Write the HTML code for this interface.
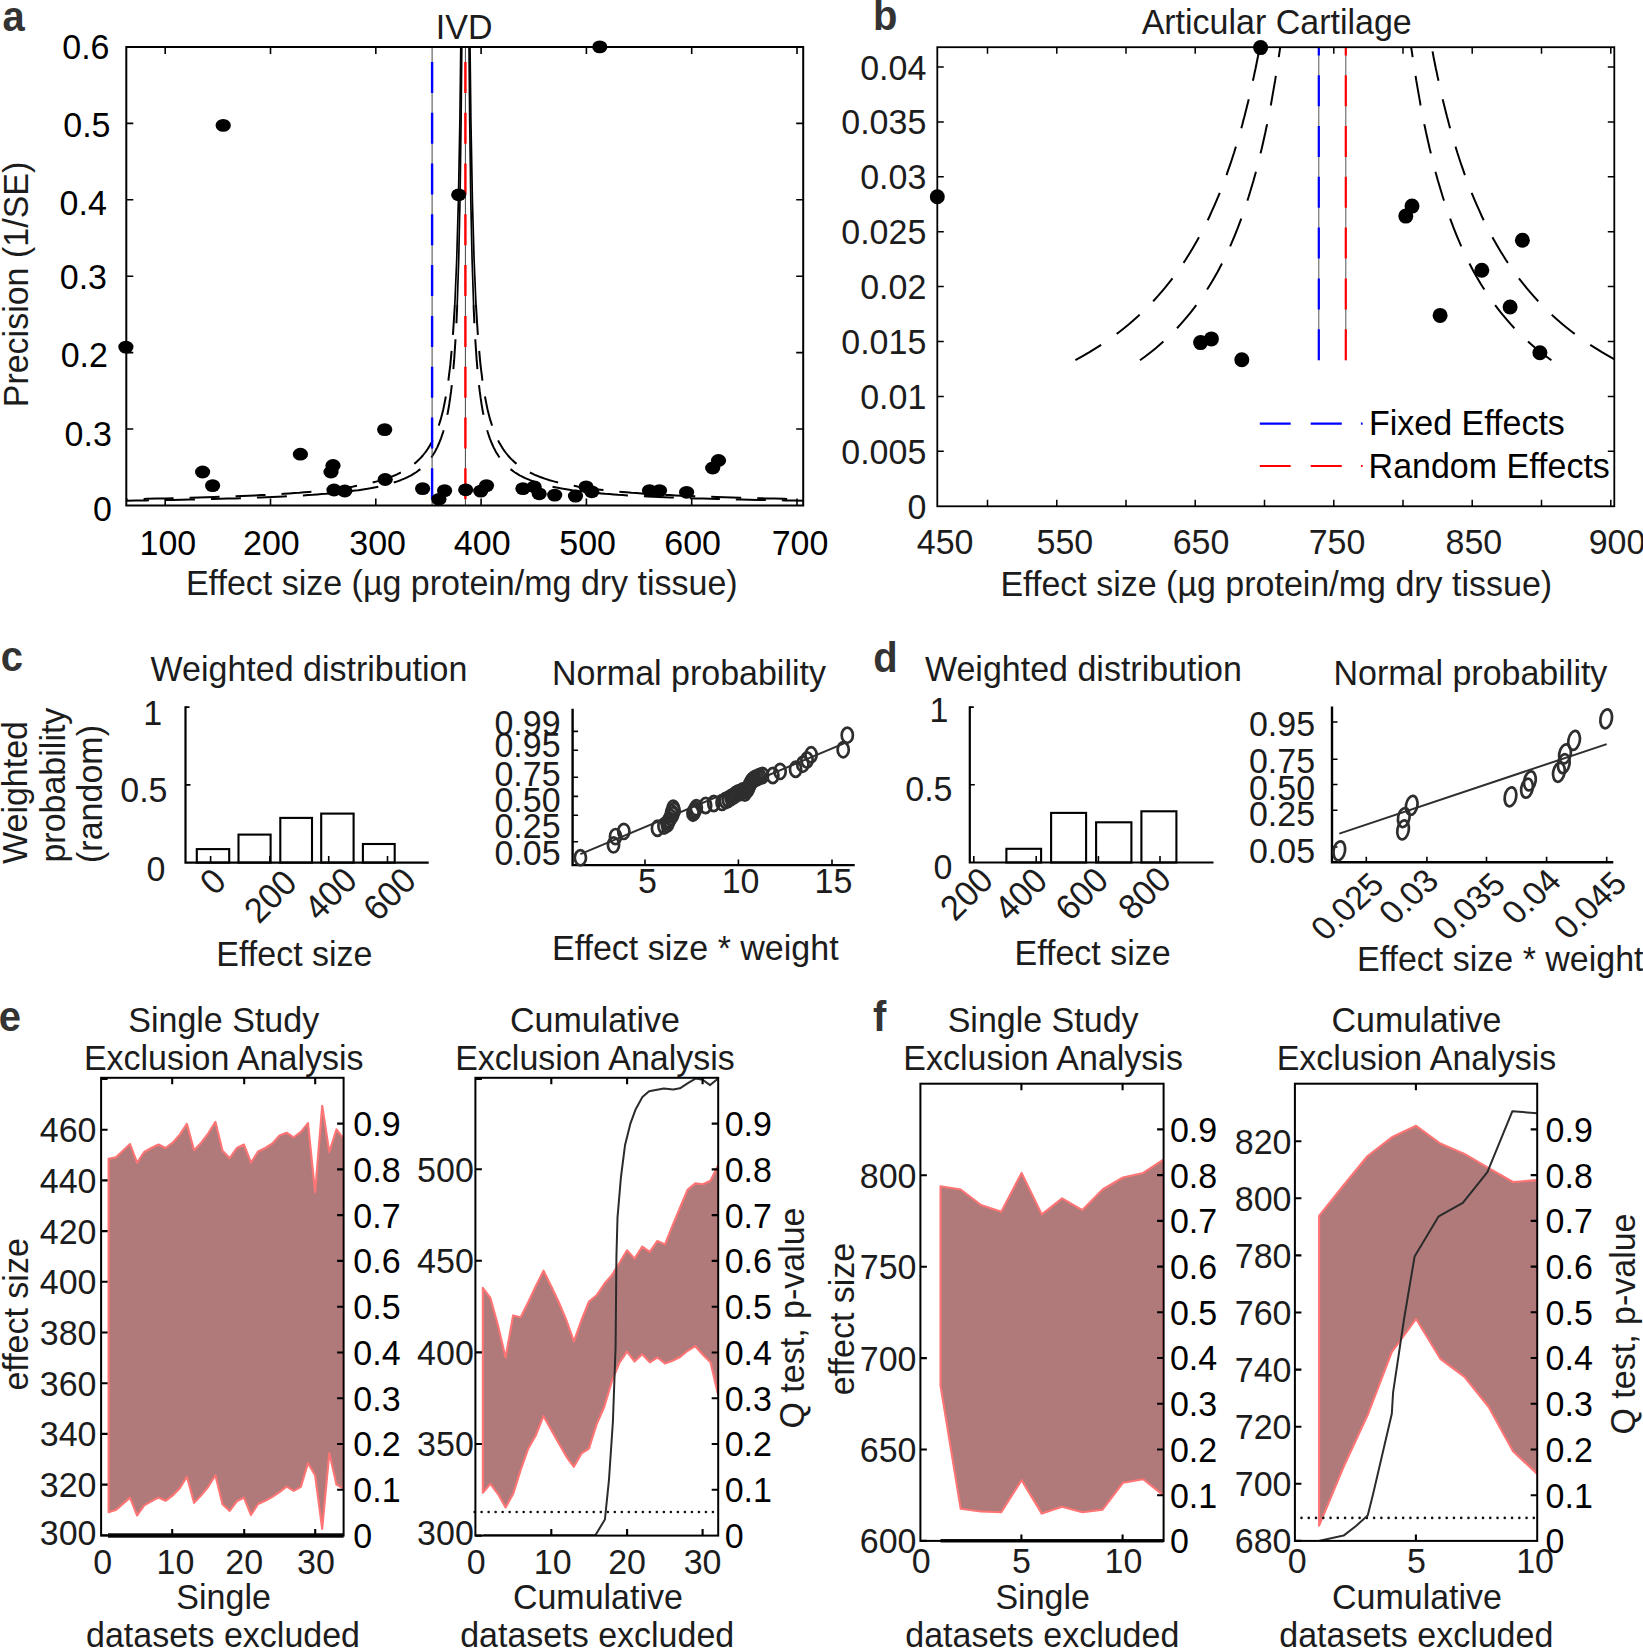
<!DOCTYPE html>
<html lang="en"><head><meta charset="utf-8"><title>Funnel plots and exclusion analyses</title>
<style>
html,body{margin:0;padding:0;background:#fff}
svg{display:block}
text{font-family:"Liberation Sans",Arial,Helvetica,sans-serif}
</style></head><body>
<svg width="1643" height="1649" viewBox="0 0 1643 1649">
<rect width="1643" height="1649" fill="#fff"/>
<g font-size="34" fill="#1c1c1c" text-anchor="middle">
<text transform="translate(2.5 30.6) scale(1 1.045)" text-anchor="start" font-size="40" fill="#333" font-weight="bold">a</text>
<text transform="translate(873.0 30.1) scale(1 1.045)" text-anchor="start" font-size="40" fill="#333" font-weight="bold">b</text>
<text transform="translate(0.8 670.7) scale(1 1.045)" text-anchor="start" font-size="40" fill="#333" font-weight="bold">c</text>
<text transform="translate(873.2 672.0) scale(1 1.045)" text-anchor="start" font-size="40" fill="#333" font-weight="bold">d</text>
<text transform="translate(-1.2 1030.5) scale(1 1.045)" text-anchor="start" font-size="40" fill="#333" font-weight="bold">e</text>
<text transform="translate(873.0 1030.7) scale(1 1.045)" text-anchor="start" font-size="40" fill="#333" font-weight="bold">f</text>
<g id="panel-a">
<clipPath id="clipA"><rect x="126.3" y="47.0" width="676.9" height="458.5"/></clipPath>
<path d="M165.2 505.5v-7M165.2 47.0v7M270.5 505.5v-7M270.5 47.0v7M375.8 505.5v-7M375.8 47.0v7M481.1 505.5v-7M481.1 47.0v7M586.4 505.5v-7M586.4 47.0v7M691.7 505.5v-7M691.7 47.0v7M797.0 505.5v-7M797.0 47.0v7M126.3 123.4h7M126.3 199.8h7M126.3 276.2h7M126.3 352.6h7M126.3 429.0h7M803.2 123.4h-7M803.2 199.8h-7M803.2 276.2h-7M803.2 352.6h-7M803.2 429.0h-7" stroke="#000" stroke-width="1.6" fill="none"/>
<g clip-path="url(#clipA)">
<path d="M461.8 45.0 L461.1 120.0 L460.0 200.0 L458.7 260.0 L457.2 305.0" stroke="#000" stroke-width="1.7" fill="none"/>
<path d="M460.8 45.0 L459.9 120.0 L458.4 200.0 L456.7 260.0 L454.8 305.0" stroke="#000" stroke-width="1.7" fill="none"/>
<path d="M454.8 305.0 L454.5 310.8 L454.1 316.5 L453.8 322.0 L453.4 327.4 L453.1 332.5 L452.7 337.6 L452.3 342.5 L451.9 347.2 L451.5 351.8 L451.1 356.3 L450.7 360.7 L450.3 364.9 L449.8 369.0 L449.3 372.9 L448.8 376.8 L448.4 380.6 L447.8 384.2 L447.3 387.7 L446.8 391.2 L446.2 394.5 L445.6 397.7 L445.0 400.9 L444.4 403.9 L443.8 406.9 L443.2 409.7 L442.5 412.5 L441.8 415.2 L441.1 417.9 L440.4 420.4 L439.6 422.9 L438.8 425.3 L438.0 427.6 L437.2 429.9 L436.4 432.1 L435.5 434.2 L434.6 436.3 L433.7 438.3 L432.7 440.3 L431.8 442.2 L430.7 444.0 L429.7 445.8 L428.6 447.6 L427.5 449.3 L426.4 450.9 L425.2 452.5 L424.0 454.0 L422.8 455.5 L421.5 457.0 L420.2 458.4 L418.8 459.8 L417.4 461.1 L416.0 462.4 L414.5 463.6 L413.0 464.9 L411.4 466.0 L409.8 467.2 L408.1 468.3 L406.4 469.4 L404.6 470.4 L402.8 471.5 L400.9 472.5 L399.0 473.4 L397.0 474.4 L395.0 475.3 L392.8 476.1 L390.7 477.0 L388.4 477.8 L386.1 478.6 L383.7 479.4 L381.3 480.2 L378.8 480.9 L376.2 481.6 L373.5 482.3 L370.7 483.0 L367.9 483.7 L365.0 484.3 L361.9 484.9 L358.8 485.5 L355.6 486.1 L352.4 486.7 L349.0 487.2 L345.5 487.7 L341.9 488.3 L338.2 488.8 L334.4 489.2 L330.4 489.7 L326.4 490.2 L322.2 490.6 L317.9 491.1 L313.5 491.5 L308.9 491.9 L304.2 492.3 L299.4 492.7 L294.4 493.0 L289.3 493.4 L284.0 493.8 L278.6 494.1 L273.0 494.4 L267.2 494.8 L261.2 495.1 L255.1 495.4 L248.8 495.7 L242.3 496.0 L235.6 496.2 L228.7 496.5 L221.6 496.8 L214.3 497.0 L206.8 497.3 L199.0 497.5 L191.0 497.7 L182.8 498.0 L174.3 498.2 L165.6 498.4 L156.6 498.6 L147.3 498.8 L137.8 499.0 L127.9 499.2 L117.8 499.4 L107.4 499.6" stroke="#000" stroke-width="2.0" fill="none" stroke-dasharray="30 16" stroke-linejoin="round"/>
<path d="M457.2 305.0 L457.0 310.8 L456.7 316.5 L456.5 322.0 L456.2 327.4 L455.9 332.5 L455.6 337.6 L455.3 342.5 L455.0 347.2 L454.7 351.8 L454.4 356.3 L454.1 360.7 L453.7 364.9 L453.4 369.0 L453.0 372.9 L452.7 376.8 L452.3 380.6 L451.9 384.2 L451.5 387.7 L451.1 391.2 L450.6 394.5 L450.2 397.7 L449.7 400.9 L449.3 403.9 L448.8 406.9 L448.3 409.7 L447.8 412.5 L447.2 415.2 L446.7 417.9 L446.1 420.4 L445.5 422.9 L445.0 425.3 L444.3 427.6 L443.7 429.9 L443.1 432.1 L442.4 434.2 L441.7 436.3 L441.0 438.3 L440.2 440.3 L439.5 442.2 L438.7 444.0 L437.9 445.8 L437.1 447.6 L436.2 449.3 L435.4 450.9 L434.5 452.5 L433.5 454.0 L432.6 455.5 L431.6 457.0 L430.6 458.4 L429.5 459.8 L428.5 461.1 L427.4 462.4 L426.2 463.6 L425.0 464.9 L423.8 466.0 L422.6 467.2 L421.3 468.3 L420.0 469.4 L418.6 470.4 L417.2 471.5 L415.8 472.5 L414.3 473.4 L412.7 474.4 L411.2 475.3 L409.5 476.1 L407.9 477.0 L406.1 477.8 L404.4 478.6 L402.5 479.4 L400.6 480.2 L398.7 480.9 L396.7 481.6 L394.6 482.3 L392.5 483.0 L390.3 483.7 L388.1 484.3 L385.7 484.9 L383.4 485.5 L380.9 486.1 L378.4 486.7 L375.8 487.2 L373.1 487.7 L370.3 488.3 L367.4 488.8 L364.5 489.2 L361.5 489.7 L358.4 490.2 L355.1 490.6 L351.8 491.1 L348.4 491.5 L344.9 491.9 L341.3 492.3 L337.6 492.7 L333.7 493.0 L329.8 493.4 L325.7 493.8 L321.5 494.1 L317.2 494.4 L312.8 494.8 L308.2 495.1 L303.5 495.4 L298.6 495.7 L293.6 496.0 L288.5 496.2 L283.2 496.5 L277.7 496.8 L272.1 497.0 L266.3 497.3 L260.3 497.5 L254.1 497.7 L247.8 498.0 L241.3 498.2 L234.5 498.4 L227.6 498.6 L220.5 498.8 L213.1 499.0 L205.6 499.2 L197.8 499.4 L189.7 499.6 L181.5 499.7 L173.0 499.9 L164.2 500.1 L155.2 500.2 L145.8 500.4 L136.3 500.5 L126.4 500.7 L116.2 500.8 L105.7 500.9" stroke="#000" stroke-width="2.0" fill="none" stroke-dasharray="30 16" stroke-dashoffset="11.7" stroke-linejoin="round"/>
<path d="M469.0 45.0 L469.7 120.0 L470.8 200.0 L472.1 260.0 L473.6 305.0" stroke="#000" stroke-width="1.7" fill="none"/>
<path d="M470.0 45.0 L470.9 120.0 L472.4 200.0 L474.1 260.0 L476.0 305.0" stroke="#000" stroke-width="1.7" fill="none"/>
<path d="M476.0 305.0 L476.3 310.8 L476.7 316.5 L477.0 322.0 L477.4 327.4 L477.7 332.5 L478.1 337.6 L478.5 342.5 L478.9 347.2 L479.3 351.8 L479.7 356.3 L480.1 360.7 L480.5 364.9 L481.0 369.0 L481.5 372.9 L482.0 376.8 L482.4 380.6 L483.0 384.2 L483.5 387.7 L484.0 391.2 L484.6 394.5 L485.2 397.7 L485.8 400.9 L486.4 403.9 L487.0 406.9 L487.6 409.7 L488.3 412.5 L489.0 415.2 L489.7 417.9 L490.4 420.4 L491.2 422.9 L492.0 425.3 L492.8 427.6 L493.6 429.9 L494.4 432.1 L495.3 434.2 L496.2 436.3 L497.1 438.3 L498.1 440.3 L499.0 442.2 L500.1 444.0 L501.1 445.8 L502.2 447.6 L503.3 449.3 L504.4 450.9 L505.6 452.5 L506.8 454.0 L508.0 455.5 L509.3 457.0 L510.6 458.4 L512.0 459.8 L513.4 461.1 L514.8 462.4 L516.3 463.6 L517.8 464.9 L519.4 466.0 L521.0 467.2 L522.7 468.3 L524.4 469.4 L526.2 470.4 L528.0 471.5 L529.9 472.5 L531.8 473.4 L533.8 474.4 L535.8 475.3 L538.0 476.1 L540.1 477.0 L542.4 477.8 L544.7 478.6 L547.1 479.4 L549.5 480.2 L552.0 480.9 L554.6 481.6 L557.3 482.3 L560.1 483.0 L562.9 483.7 L565.8 484.3 L568.9 484.9 L572.0 485.5 L575.2 486.1 L578.4 486.7 L581.8 487.2 L585.3 487.7 L588.9 488.3 L592.6 488.8 L596.4 489.2 L600.4 489.7 L604.4 490.2 L608.6 490.6 L612.9 491.1 L617.3 491.5 L621.9 491.9 L626.6 492.3 L631.4 492.7 L636.4 493.0 L641.5 493.4 L646.8 493.8 L652.2 494.1 L657.8 494.4 L663.6 494.8 L669.6 495.1 L675.7 495.4 L682.0 495.7 L688.5 496.0 L695.2 496.2 L702.1 496.5 L709.2 496.8 L716.5 497.0 L724.0 497.3 L731.8 497.5 L739.8 497.7 L748.0 498.0 L756.5 498.2 L765.2 498.4 L774.2 498.6 L783.5 498.8 L793.0 499.0 L802.9 499.2 L813.0 499.4 L823.4 499.6" stroke="#000" stroke-width="2.0" fill="none" stroke-dasharray="30 16" stroke-linejoin="round"/>
<path d="M473.6 305.0 L473.8 310.8 L474.1 316.5 L474.3 322.0 L474.6 327.4 L474.9 332.5 L475.2 337.6 L475.5 342.5 L475.8 347.2 L476.1 351.8 L476.4 356.3 L476.7 360.7 L477.1 364.9 L477.4 369.0 L477.8 372.9 L478.1 376.8 L478.5 380.6 L478.9 384.2 L479.3 387.7 L479.7 391.2 L480.2 394.5 L480.6 397.7 L481.1 400.9 L481.5 403.9 L482.0 406.9 L482.5 409.7 L483.0 412.5 L483.6 415.2 L484.1 417.9 L484.7 420.4 L485.3 422.9 L485.8 425.3 L486.5 427.6 L487.1 429.9 L487.7 432.1 L488.4 434.2 L489.1 436.3 L489.8 438.3 L490.6 440.3 L491.3 442.2 L492.1 444.0 L492.9 445.8 L493.7 447.6 L494.6 449.3 L495.4 450.9 L496.3 452.5 L497.3 454.0 L498.2 455.5 L499.2 457.0 L500.2 458.4 L501.3 459.8 L502.3 461.1 L503.4 462.4 L504.6 463.6 L505.8 464.9 L507.0 466.0 L508.2 467.2 L509.5 468.3 L510.8 469.4 L512.2 470.4 L513.6 471.5 L515.0 472.5 L516.5 473.4 L518.1 474.4 L519.6 475.3 L521.3 476.1 L522.9 477.0 L524.7 477.8 L526.4 478.6 L528.3 479.4 L530.2 480.2 L532.1 480.9 L534.1 481.6 L536.2 482.3 L538.3 483.0 L540.5 483.7 L542.7 484.3 L545.1 484.9 L547.4 485.5 L549.9 486.1 L552.4 486.7 L555.0 487.2 L557.7 487.7 L560.5 488.3 L563.4 488.8 L566.3 489.2 L569.3 489.7 L572.4 490.2 L575.7 490.6 L579.0 491.1 L582.4 491.5 L585.9 491.9 L589.5 492.3 L593.2 492.7 L597.1 493.0 L601.0 493.4 L605.1 493.8 L609.3 494.1 L613.6 494.4 L618.0 494.8 L622.6 495.1 L627.3 495.4 L632.2 495.7 L637.2 496.0 L642.3 496.2 L647.6 496.5 L653.1 496.8 L658.7 497.0 L664.5 497.3 L670.5 497.5 L676.7 497.7 L683.0 498.0 L689.5 498.2 L696.3 498.4 L703.2 498.6 L710.3 498.8 L717.7 499.0 L725.2 499.2 L733.0 499.4 L741.1 499.6 L749.3 499.7 L757.8 499.9 L766.6 500.1 L775.6 500.2 L785.0 500.4 L794.5 500.5 L804.4 500.7 L814.6 500.8 L825.1 500.9" stroke="#000" stroke-width="2.0" fill="none" stroke-dasharray="30 16" stroke-dashoffset="11.7" stroke-linejoin="round"/>
</g>
<line x1="432.1" y1="47.0" x2="432.1" y2="505.5" stroke="#444" stroke-width="1"/>
<line x1="432.1" y1="499.3" x2="432.1" y2="47.0" stroke="#0000ff" stroke-width="2.4" stroke-dasharray="31 19.8"/>
<line x1="465.4" y1="47.0" x2="465.4" y2="505.5" stroke="#444" stroke-width="1"/>
<line x1="465.4" y1="499.3" x2="465.4" y2="47.0" stroke="#ff0000" stroke-width="2.4" stroke-dasharray="31 19.8"/>
<rect x="126.3" y="47.0" width="676.9" height="458.5" fill="none" stroke="#000" stroke-width="2"/>
<g fill="#000"><ellipse cx="125.9" cy="347.1" rx="7.6" ry="6.4"/><ellipse cx="223.2" cy="125.4" rx="7.6" ry="6.4"/><ellipse cx="599.8" cy="46.9" rx="7.6" ry="6.4"/><ellipse cx="458.7" cy="194.8" rx="7.6" ry="6.4"/><ellipse cx="202.6" cy="472" rx="7.6" ry="6.4"/><ellipse cx="212.6" cy="485.6" rx="7.6" ry="6.4"/><ellipse cx="300.4" cy="454.2" rx="7.6" ry="6.4"/><ellipse cx="333" cy="465.5" rx="7.6" ry="6.4"/><ellipse cx="331" cy="472" rx="7.6" ry="6.4"/><ellipse cx="334" cy="490" rx="7.6" ry="6.4"/><ellipse cx="344.8" cy="491" rx="7.6" ry="6.4"/><ellipse cx="384.7" cy="429.6" rx="7.6" ry="6.4"/><ellipse cx="385.2" cy="479.5" rx="7.6" ry="6.4"/><ellipse cx="422.6" cy="488.6" rx="7.6" ry="6.4"/><ellipse cx="438.9" cy="499.3" rx="7.6" ry="6.4"/><ellipse cx="444.6" cy="490.6" rx="7.6" ry="6.4"/><ellipse cx="465.7" cy="489.8" rx="7.6" ry="6.4"/><ellipse cx="480.7" cy="491.1" rx="7.6" ry="6.4"/><ellipse cx="486.5" cy="485.6" rx="7.6" ry="6.4"/><ellipse cx="522.9" cy="488.6" rx="7.6" ry="6.4"/><ellipse cx="534.2" cy="486.8" rx="7.6" ry="6.4"/><ellipse cx="539.2" cy="493.8" rx="7.6" ry="6.4"/><ellipse cx="554.7" cy="495.1" rx="7.6" ry="6.4"/><ellipse cx="575.5" cy="496.1" rx="7.6" ry="6.4"/><ellipse cx="586.1" cy="486.8" rx="7.6" ry="6.4"/><ellipse cx="591.8" cy="491.8" rx="7.6" ry="6.4"/><ellipse cx="649.5" cy="490.6" rx="7.6" ry="6.4"/><ellipse cx="659.5" cy="490.6" rx="7.6" ry="6.4"/><ellipse cx="686.6" cy="492.3" rx="7.6" ry="6.4"/><ellipse cx="712.7" cy="468" rx="7.6" ry="6.4"/><ellipse cx="718.5" cy="460.5" rx="7.6" ry="6.4"/></g>
<text transform="translate(109.5 58.8) scale(1 1.045)" text-anchor="end" fill="#000">0.6</text>
<text transform="translate(110.5 136.6) scale(1 1.045)" text-anchor="end" fill="#000">0.5</text>
<text transform="translate(106.8 215.2) scale(1 1.045)" text-anchor="end" fill="#000">0.4</text>
<text transform="translate(107.0 289.0) scale(1 1.045)" text-anchor="end" fill="#000">0.3</text>
<text transform="translate(107.9 366.9) scale(1 1.045)" text-anchor="end" fill="#000">0.2</text>
<text transform="translate(111.8 446.4) scale(1 1.045)" text-anchor="end" fill="#000">0.3</text>
<text transform="translate(111.8 521.0) scale(1 1.045)" text-anchor="end" fill="#000">0</text>
<text transform="translate(167.9 554.6) scale(1 1.045)" fill="#000">100</text>
<text transform="translate(271.4 554.6) scale(1 1.045)" fill="#000">200</text>
<text transform="translate(377.6 554.6) scale(1 1.045)" fill="#000">300</text>
<text transform="translate(482.2 554.6) scale(1 1.045)" fill="#000">400</text>
<text transform="translate(587.6 554.6) scale(1 1.045)" fill="#000">500</text>
<text transform="translate(692.6 554.6) scale(1 1.045)" fill="#000">600</text>
<text transform="translate(800.0 554.6) scale(1 1.045)" fill="#000">700</text>
<text transform="translate(461.8 595.3) scale(1 1.045)">Effect size (µg protein/mg dry tissue)</text>
<text transform="translate(464.2 38.9) scale(1 1.045)">IVD</text>
<text transform="translate(27.6 284.5) rotate(-90) scale(1 1.045)">Precision (1/SE)</text>
</g>
<g id="panel-b">
<path d="M987.5 506.3v-6.5M987.5 47.2v6.5M1056.8 506.3v-6.5M1056.8 47.2v6.5M1126.0 506.3v-6.5M1126.0 47.2v6.5M1195.2 506.3v-6.5M1195.2 47.2v6.5M1264.5 506.3v-6.5M1264.5 47.2v6.5M1333.8 506.3v-6.5M1333.8 47.2v6.5M1403.0 506.3v-6.5M1403.0 47.2v6.5M1472.2 506.3v-6.5M1472.2 47.2v6.5M1541.5 506.3v-6.5M1541.5 47.2v6.5M1610.8 506.3v-6.5M1610.8 47.2v6.5M937.3 67.0h6.5M937.3 121.9h6.5M937.3 176.8h6.5M937.3 231.7h6.5M937.3 286.6h6.5M937.3 341.5h6.5M937.3 396.4h6.5M937.3 451.3h6.5M1614.3 67.0h-6.5M1614.3 121.9h-6.5M1614.3 176.8h-6.5M1614.3 231.7h-6.5M1614.3 286.6h-6.5M1614.3 341.5h-6.5M1614.3 396.4h-6.5M1614.3 451.3h-6.5" stroke="#000" stroke-width="1.5" fill="none"/>
<clipPath id="clipB"><rect x="937.3" y="47.2" width="677.0" height="459.1"/></clipPath>
<g clip-path="url(#clipB)">
<path d="M1140.0 360.2 L1145.5 356.2 L1150.7 352.2 L1155.7 348.2 L1160.3 344.2 L1164.8 340.2 L1169.1 336.2 L1173.1 332.2 L1177.0 328.2 L1180.7 324.2 L1184.2 320.2 L1187.6 316.2 L1190.9 312.2 L1194.0 308.2 L1197.0 304.2 L1199.9 300.2 L1202.7 296.2 L1205.4 292.2 L1207.9 288.2 L1210.4 284.2 L1212.8 280.2 L1215.1 276.2 L1217.4 272.2 L1219.5 268.2 L1221.6 264.2 L1223.6 260.2 L1225.6 256.2 L1227.5 252.2 L1229.3 248.2 L1231.1 244.2 L1232.8 240.2 L1234.5 236.2 L1236.1 232.2 L1237.7 228.2 L1239.2 224.2 L1240.7 220.2 L1242.1 216.2 L1243.5 212.2 L1244.9 208.2 L1246.2 204.2 L1247.5 200.2 L1248.8 196.2 L1250.0 192.2 L1251.2 188.2 L1252.4 184.2 L1253.6 180.2 L1254.7 176.2 L1255.8 172.2 L1256.8 168.2 L1257.9 164.2 L1258.9 160.2 L1259.9 156.2 L1260.8 152.2 L1261.8 148.2 L1262.7 144.2 L1263.6 140.2 L1264.5 136.2 L1265.4 132.2 L1266.2 128.2 L1267.1 124.2 L1267.9 120.2 L1268.7 116.2 L1269.5 112.2 L1270.2 108.2 L1271.0 104.2 L1271.7 100.2 L1272.4 96.2 L1273.1 92.2 L1273.8 88.2 L1274.5 84.2 L1275.2 80.2 L1275.8 76.2 L1276.5 72.2 L1277.1 68.2 L1277.7 64.2 L1278.3 60.2 L1278.9 56.2 L1279.5 52.2 L1280.1 48.2 L1280.3 47.2" stroke="#000" stroke-width="2" fill="none" stroke-dasharray="30 19"/>
<path d="M1551.4 360.2 L1545.9 356.2 L1540.7 352.2 L1535.7 348.2 L1531.1 344.2 L1526.6 340.2 L1522.3 336.2 L1518.3 332.2 L1514.4 328.2 L1510.7 324.2 L1507.2 320.2 L1503.8 316.2 L1500.5 312.2 L1497.4 308.2 L1494.4 304.2 L1491.5 300.2 L1488.7 296.2 L1486.0 292.2 L1483.5 288.2 L1481.0 284.2 L1478.6 280.2 L1476.3 276.2 L1474.0 272.2 L1471.9 268.2 L1469.8 264.2 L1467.8 260.2 L1465.8 256.2 L1463.9 252.2 L1462.1 248.2 L1460.3 244.2 L1458.6 240.2 L1456.9 236.2 L1455.3 232.2 L1453.7 228.2 L1452.2 224.2 L1450.7 220.2 L1449.3 216.2 L1447.9 212.2 L1446.5 208.2 L1445.2 204.2 L1443.9 200.2 L1442.6 196.2 L1441.4 192.2 L1440.2 188.2 L1439.0 184.2 L1437.8 180.2 L1436.7 176.2 L1435.6 172.2 L1434.6 168.2 L1433.5 164.2 L1432.5 160.2 L1431.5 156.2 L1430.6 152.2 L1429.6 148.2 L1428.7 144.2 L1427.8 140.2 L1426.9 136.2 L1426.0 132.2 L1425.2 128.2 L1424.3 124.2 L1423.5 120.2 L1422.7 116.2 L1421.9 112.2 L1421.2 108.2 L1420.4 104.2 L1419.7 100.2 L1419.0 96.2 L1418.3 92.2 L1417.6 88.2 L1416.9 84.2 L1416.2 80.2 L1415.6 76.2 L1414.9 72.2 L1414.3 68.2 L1413.7 64.2 L1413.1 60.2 L1412.5 56.2 L1411.9 52.2 L1411.3 48.2 L1411.1 47.2" stroke="#000" stroke-width="2" fill="none" stroke-dasharray="30 19"/>
<path d="M1075.4 360.2 L1082.6 356.2 L1089.5 352.2 L1095.9 348.2 L1102.1 344.2 L1108.0 340.2 L1113.6 336.2 L1118.9 332.2 L1124.0 328.2 L1128.9 324.2 L1133.5 320.2 L1138.0 316.2 L1142.3 312.2 L1146.4 308.2 L1150.3 304.2 L1154.1 300.2 L1157.8 296.2 L1161.3 292.2 L1164.7 288.2 L1167.9 284.2 L1171.1 280.2 L1174.1 276.2 L1177.0 272.2 L1179.9 268.2 L1182.6 264.2 L1185.3 260.2 L1187.8 256.2 L1190.3 252.2 L1192.7 248.2 L1195.0 244.2 L1197.3 240.2 L1199.5 236.2 L1201.6 232.2 L1203.7 228.2 L1205.7 224.2 L1207.7 220.2 L1209.6 216.2 L1211.4 212.2 L1213.2 208.2 L1215.0 204.2 L1216.7 200.2 L1218.4 196.2 L1220.0 192.2 L1221.6 188.2 L1223.1 184.2 L1224.6 180.2 L1226.1 176.2 L1227.5 172.2 L1228.9 168.2 L1230.3 164.2 L1231.6 160.2 L1232.9 156.2 L1234.2 152.2 L1235.4 148.2 L1236.7 144.2 L1237.8 140.2 L1239.0 136.2 L1240.2 132.2 L1241.3 128.2 L1242.4 124.2 L1243.4 120.2 L1244.5 116.2 L1245.5 112.2 L1246.5 108.2 L1247.5 104.2 L1248.5 100.2 L1249.4 96.2 L1250.3 92.2 L1251.3 88.2 L1252.2 84.2 L1253.0 80.2 L1253.9 76.2 L1254.7 72.2 L1255.6 68.2 L1256.4 64.2 L1257.2 60.2 L1258.0 56.2 L1258.7 52.2 L1259.5 48.2 L1259.7 47.2" stroke="#000" stroke-width="2" fill="none" stroke-dasharray="30 19"/>
<path d="M1616.0 360.2 L1608.8 356.2 L1601.9 352.2 L1595.5 348.2 L1589.3 344.2 L1583.4 340.2 L1577.8 336.2 L1572.5 332.2 L1567.4 328.2 L1562.5 324.2 L1557.9 320.2 L1553.4 316.2 L1549.1 312.2 L1545.0 308.2 L1541.1 304.2 L1537.3 300.2 L1533.6 296.2 L1530.1 292.2 L1526.7 288.2 L1523.5 284.2 L1520.3 280.2 L1517.3 276.2 L1514.4 272.2 L1511.5 268.2 L1508.8 264.2 L1506.1 260.2 L1503.6 256.2 L1501.1 252.2 L1498.7 248.2 L1496.4 244.2 L1494.1 240.2 L1491.9 236.2 L1489.8 232.2 L1487.7 228.2 L1485.7 224.2 L1483.7 220.2 L1481.8 216.2 L1480.0 212.2 L1478.2 208.2 L1476.4 204.2 L1474.7 200.2 L1473.0 196.2 L1471.4 192.2 L1469.8 188.2 L1468.3 184.2 L1466.8 180.2 L1465.3 176.2 L1463.9 172.2 L1462.5 168.2 L1461.1 164.2 L1459.8 160.2 L1458.5 156.2 L1457.2 152.2 L1456.0 148.2 L1454.7 144.2 L1453.6 140.2 L1452.4 136.2 L1451.2 132.2 L1450.1 128.2 L1449.0 124.2 L1448.0 120.2 L1446.9 116.2 L1445.9 112.2 L1444.9 108.2 L1443.9 104.2 L1442.9 100.2 L1442.0 96.2 L1441.1 92.2 L1440.1 88.2 L1439.2 84.2 L1438.4 80.2 L1437.5 76.2 L1436.7 72.2 L1435.8 68.2 L1435.0 64.2 L1434.2 60.2 L1433.4 56.2 L1432.7 52.2 L1431.9 48.2 L1431.7 47.2" stroke="#000" stroke-width="2" fill="none" stroke-dasharray="30 19"/>
</g>
<line x1="1318.8" y1="47.2" x2="1318.8" y2="360.2" stroke="#555" stroke-width="1"/>
<line x1="1318.8" y1="360.2" x2="1318.8" y2="47.2" stroke="#0000ff" stroke-width="2.2" stroke-dasharray="31 19.8"/>
<line x1="1345.8" y1="47.2" x2="1345.8" y2="360.2" stroke="#555" stroke-width="1"/>
<line x1="1345.8" y1="360.2" x2="1345.8" y2="47.2" stroke="#ff0000" stroke-width="2.2" stroke-dasharray="31 19.8"/>
<rect x="937.3" y="47.2" width="677.0" height="459.1" fill="none" stroke="#000" stroke-width="1.8"/>
<g fill="#000"><circle cx="937.3" cy="196.8" r="7.5"/><circle cx="1260.6" cy="47.6" r="7.5"/><circle cx="1412" cy="206.1" r="7.5"/><circle cx="1405.8" cy="216.1" r="7.5"/><circle cx="1522.4" cy="240.2" r="7.5"/><circle cx="1481.8" cy="270.3" r="7.5"/><circle cx="1510.1" cy="307.0" r="7.5"/><circle cx="1440.1" cy="315.4" r="7.5"/><circle cx="1539.9" cy="352.7" r="7.5"/><circle cx="1241.8" cy="359.7" r="7.5"/><circle cx="1200.6" cy="342.6" r="7.5"/><circle cx="1211.4" cy="338.9" r="7.5"/></g>
<text transform="translate(926.3 79.5) scale(1 1.045)" text-anchor="end">0.04</text>
<text transform="translate(926.3 134.4) scale(1 1.045)" text-anchor="end">0.035</text>
<text transform="translate(926.3 189.3) scale(1 1.045)" text-anchor="end">0.03</text>
<text transform="translate(926.3 244.2) scale(1 1.045)" text-anchor="end">0.025</text>
<text transform="translate(926.3 299.1) scale(1 1.045)" text-anchor="end">0.02</text>
<text transform="translate(926.3 354.0) scale(1 1.045)" text-anchor="end">0.015</text>
<text transform="translate(926.3 408.9) scale(1 1.045)" text-anchor="end">0.01</text>
<text transform="translate(926.3 463.8) scale(1 1.045)" text-anchor="end">0.005</text>
<text transform="translate(926.3 519.1) scale(1 1.045)" text-anchor="end">0</text>
<text transform="translate(945.1 553.6) scale(1 1.045)">450</text>
<text transform="translate(1064.9 553.6) scale(1 1.045)">550</text>
<text transform="translate(1201.0 553.6) scale(1 1.045)">650</text>
<text transform="translate(1337.0 553.6) scale(1 1.045)">750</text>
<text transform="translate(1473.9 553.6) scale(1 1.045)">850</text>
<text transform="translate(1617.0 553.6) scale(1 1.045)">900</text>
<text transform="translate(1276.3 595.9) scale(1 1.045)">Effect size (µg protein/mg dry tissue)</text>
<text transform="translate(1276.7 34.3) scale(1 1.045)">Articular Cartilage</text>
<path d="M1259.8 423.6H1290.7M1310.7 423.6H1341.8M1360.9 423.6H1362.6" stroke="#0000ff" stroke-width="2.2" fill="none"/>
<path d="M1259.8 466.0H1290.7M1310.7 466.0H1341.8M1360.9 466.0H1362.6" stroke="#ff0000" stroke-width="2.2" fill="none"/>
<text transform="translate(1369.0 435.4) scale(1 1.045)" text-anchor="start" fill="#000">Fixed Effects</text>
<text transform="translate(1368.6 478.0) scale(1 1.045)" text-anchor="start" fill="#000">Random Effects</text>
</g>
<g id="hist-c">
<path d="M185.5 706.3V862.6H428.7" stroke="#000" stroke-width="2.2" fill="none"/>
<path d="M185.5 784.9h5M185.5 707.1h4M210.6 862.6v-6.5M269.9 862.6v-6.5M328.7 862.6v-6.5M387.5 862.6v-6.5" stroke="#000" stroke-width="1.6" fill="none"/>
<rect x="196.8" y="849.1" width="32.4" height="13.5" fill="none" stroke="#000" stroke-width="2.1"/>
<rect x="238.5" y="834.6" width="32.1" height="28.0" fill="none" stroke="#000" stroke-width="2.1"/>
<rect x="280.3" y="817.9" width="31.7" height="44.7" fill="none" stroke="#000" stroke-width="2.1"/>
<rect x="321.2" y="813.6" width="32.4" height="49.0" fill="none" stroke="#000" stroke-width="2.1"/>
<rect x="362.9" y="844.0" width="31.8" height="18.6" fill="none" stroke="#000" stroke-width="2.1"/>
<text transform="translate(162.2 725.0) scale(1 1.045)" text-anchor="end">1</text>
<text transform="translate(167.5 802.2) scale(1 1.045)" text-anchor="end">0.5</text>
<text transform="translate(165.4 880.5) scale(1 1.045)" text-anchor="end">0</text>
<text transform="rotate(-45 212.8 881.5) translate(212.8 893.7) scale(1 1.045)">0</text>
<text transform="rotate(-45 270.3 896.3) translate(270.3 908.5) scale(1 1.045)">200</text>
<text transform="rotate(-45 330.4 893.7) translate(330.4 905.9) scale(1 1.045)">400</text>
<text transform="rotate(-45 389.5 894.1) translate(389.5 906.3) scale(1 1.045)">600</text>
<text transform="translate(294.4 965.6) scale(1 1.045)">Effect size</text>
<text transform="translate(309.0 681.4) scale(1 1.045)">Weighted distribution</text>
</g>
<text transform="translate(26.7 792.5) rotate(-90) scale(1 1.045)">Weighted</text>
<text transform="translate(65.0 785.1) rotate(-90) scale(1 1.045)">probability</text>
<text transform="translate(102.1 794.0) rotate(-90) scale(1 1.045)">(random)</text>
<g id="hist-d">
<path d="M969.8 706.3V862.5H1213.5" stroke="#000" stroke-width="2.2" fill="none"/>
<path d="M969.8 784.8h5M969.8 707.1h4M973.8 862.5v-6.5M1036.2 862.5v-6.5M1098.4 862.5v-6.5M1160.0 862.5v-6.5" stroke="#000" stroke-width="1.6" fill="none"/>
<rect x="1006.4" y="848.8" width="34.7" height="13.7" fill="none" stroke="#000" stroke-width="2.1"/>
<rect x="1051.1" y="812.9" width="35.0" height="49.6" fill="none" stroke="#000" stroke-width="2.1"/>
<rect x="1096.1" y="822.3" width="35.3" height="40.2" fill="none" stroke="#000" stroke-width="2.1"/>
<rect x="1141.4" y="811.3" width="35.0" height="51.2" fill="none" stroke="#000" stroke-width="2.1"/>
<text transform="translate(948.5 721.9) scale(1 1.045)" text-anchor="end">1</text>
<text transform="translate(952.5 801.2) scale(1 1.045)" text-anchor="end">0.5</text>
<text transform="translate(952.5 878.5) scale(1 1.045)" text-anchor="end">0</text>
<text transform="rotate(-45 966.5 893.8) translate(966.5 906.0) scale(1 1.045)">200</text>
<text transform="rotate(-45 1020.7 894.3) translate(1020.7 906.5) scale(1 1.045)">400</text>
<text transform="rotate(-45 1081.6 893.8) translate(1081.6 906.0) scale(1 1.045)">600</text>
<text transform="rotate(-45 1144.4 893.0) translate(1144.4 905.2) scale(1 1.045)">800</text>
<text transform="translate(1092.6 965.3) scale(1 1.045)">Effect size</text>
<text transform="translate(1083.4 681.4) scale(1 1.045)">Weighted distribution</text>
</g>
<g id="np-c">
<path d="M572.6 708.7V865.1H854.7" stroke="#000" stroke-width="2.4" fill="none"/>
<path d="M572.6 731.4h5.5M572.6 750.2h5.5M572.6 777.2h5.5M572.6 796.4h5.5M572.6 815.3h5.5M572.6 841.7h5.5M645.0 865.1v-5.5M738.4 865.1v-5.5M832.0 865.1v-5.5" stroke="#000" stroke-width="1.6" fill="none"/>
<line x1="580.4" y1="854.2" x2="845.3" y2="742.9" stroke="#2e2e2e" stroke-width="2.0"/>
<g fill="none" stroke="#2e2e2e" stroke-width="2.7"><ellipse cx="580.4" cy="857.7" rx="5.6" ry="7.6"/><ellipse cx="613.5" cy="844.9" rx="5.6" ry="7.6"/><ellipse cx="615.5" cy="836.6" rx="5.6" ry="7.6"/><ellipse cx="623.8" cy="831.4" rx="5.6" ry="7.6"/><ellipse cx="657.5" cy="828.3" rx="5.6" ry="7.6"/><ellipse cx="667.3" cy="824.2" rx="5.6" ry="7.6"/><ellipse cx="669.3" cy="820.0" rx="5.6" ry="7.6"/><ellipse cx="672.5" cy="814.9" rx="5.6" ry="7.6"/><ellipse cx="674.1" cy="810.7" rx="5.6" ry="7.6"/><ellipse cx="694.2" cy="811.8" rx="5.6" ry="7.6"/><ellipse cx="696.3" cy="807.6" rx="5.6" ry="7.6"/><ellipse cx="705.6" cy="805.5" rx="5.6" ry="7.6"/><ellipse cx="713.8" cy="803.5" rx="5.6" ry="7.6"/><ellipse cx="722.1" cy="802.4" rx="5.6" ry="7.6"/><ellipse cx="728.3" cy="799.3" rx="5.6" ry="7.6"/><ellipse cx="733.5" cy="796.2" rx="5.6" ry="7.6"/><ellipse cx="737.6" cy="793.1" rx="5.6" ry="7.6"/><ellipse cx="744.9" cy="793.1" rx="5.6" ry="7.6"/><ellipse cx="748.0" cy="789.0" rx="5.6" ry="7.6"/><ellipse cx="750.1" cy="783.8" rx="5.6" ry="7.6"/><ellipse cx="753.2" cy="779.7" rx="5.6" ry="7.6"/><ellipse cx="757.3" cy="777.6" rx="5.6" ry="7.6"/><ellipse cx="762.5" cy="775.5" rx="5.6" ry="7.6"/><ellipse cx="772.8" cy="775.5" rx="5.6" ry="7.6"/><ellipse cx="780.1" cy="771.4" rx="5.6" ry="7.6"/><ellipse cx="795.6" cy="769.3" rx="5.6" ry="7.6"/><ellipse cx="802.8" cy="764.2" rx="5.6" ry="7.6"/><ellipse cx="807.0" cy="760.0" rx="5.6" ry="7.6"/><ellipse cx="811.1" cy="754.8" rx="5.6" ry="7.6"/><ellipse cx="843.2" cy="749.7" rx="5.6" ry="7.6"/><ellipse cx="847.3" cy="735.2" rx="5.6" ry="7.6"/><ellipse cx="664.0" cy="826.0" rx="5.6" ry="7.6"/><ellipse cx="668.2" cy="822.0" rx="5.6" ry="7.6"/><ellipse cx="670.6" cy="817.5" rx="5.6" ry="7.6"/><ellipse cx="671.6" cy="812.6" rx="5.6" ry="7.6"/><ellipse cx="673.2" cy="808.2" rx="5.6" ry="7.6"/><ellipse cx="695.0" cy="809.7" rx="5.6" ry="7.6"/><ellipse cx="693.0" cy="813.2" rx="5.6" ry="7.6"/><ellipse cx="725.5" cy="800.5" rx="5.6" ry="7.6"/><ellipse cx="731.0" cy="797.5" rx="5.6" ry="7.6"/><ellipse cx="735.5" cy="794.5" rx="5.6" ry="7.6"/><ellipse cx="740.0" cy="792.5" rx="5.6" ry="7.6"/><ellipse cx="742.5" cy="791.0" rx="5.6" ry="7.6"/><ellipse cx="746.5" cy="790.5" rx="5.6" ry="7.6"/><ellipse cx="749.0" cy="786.5" rx="5.6" ry="7.6"/><ellipse cx="751.5" cy="781.5" rx="5.6" ry="7.6"/><ellipse cx="755.0" cy="778.5" rx="5.6" ry="7.6"/><ellipse cx="759.5" cy="776.5" rx="5.6" ry="7.6"/></g>
<text transform="translate(560.6 735.0) scale(1 1.045)" text-anchor="end">0.99</text>
<text transform="translate(560.6 756.9) scale(1 1.045)" text-anchor="end">0.95</text>
<text transform="translate(560.6 786.1) scale(1 1.045)" text-anchor="end">0.75</text>
<text transform="translate(560.6 811.9) scale(1 1.045)" text-anchor="end">0.50</text>
<text transform="translate(560.6 838.4) scale(1 1.045)" text-anchor="end">0.25</text>
<text transform="translate(560.6 865.2) scale(1 1.045)" text-anchor="end">0.05</text>
<text transform="translate(647.4 893.3) scale(1 1.045)">5</text>
<text transform="translate(740.6 893.3) scale(1 1.045)">10</text>
<text transform="translate(833.5 893.3) scale(1 1.045)">15</text>
<text transform="translate(689.0 684.6) scale(1 1.045)">Normal probability</text>
<text transform="translate(695.3 959.7) scale(1 1.045)">Effect size * weight</text>
</g>
<g id="np-d">
<path d="M1332 706.5V862.3H1613.3" stroke="#000" stroke-width="2.4" fill="none"/>
<path d="M1332 722.0h5.5M1332 759.3h5.5M1332 784.5h5.5M1332 810.3h5.5M1332 847.0h5.5M1366.3 862.3v-5.5M1426.9 862.3v-5.5M1486.5 862.3v-5.5M1546.6 862.3v-5.5M1606.7 862.3v-5.5" stroke="#000" stroke-width="1.6" fill="none"/>
<line x1="1339.3" y1="833.6" x2="1606.7" y2="744.1" stroke="#2e2e2e" stroke-width="2.0"/>
<g fill="none" stroke="#2e2e2e" stroke-width="2.7"><ellipse cx="1339.3" cy="850.8" rx="5.7" ry="9.6" transform="rotate(10 1339.3 850.8)"/><ellipse cx="1403.1" cy="829.9" rx="5.7" ry="9.6" transform="rotate(10 1403.1 829.9)"/><ellipse cx="1403.8" cy="817.6" rx="5.7" ry="9.6" transform="rotate(10 1403.8 817.6)"/><ellipse cx="1411.7" cy="805.4" rx="5.7" ry="9.6" transform="rotate(10 1411.7 805.4)"/><ellipse cx="1510.5" cy="796.8" rx="5.7" ry="9.6" transform="rotate(10 1510.5 796.8)"/><ellipse cx="1527.0" cy="788.2" rx="5.7" ry="9.6" transform="rotate(10 1527.0 788.2)"/><ellipse cx="1529.9" cy="780.9" rx="5.7" ry="9.6" transform="rotate(10 1529.9 780.9)"/><ellipse cx="1558.9" cy="772.3" rx="5.7" ry="9.6" transform="rotate(10 1558.9 772.3)"/><ellipse cx="1563.8" cy="763.7" rx="5.7" ry="9.6" transform="rotate(10 1563.8 763.7)"/><ellipse cx="1565.0" cy="753.9" rx="5.7" ry="9.6" transform="rotate(10 1565.0 753.9)"/><ellipse cx="1574.1" cy="740.4" rx="5.7" ry="9.6" transform="rotate(10 1574.1 740.4)"/><ellipse cx="1606.2" cy="718.8" rx="5.7" ry="9.6" transform="rotate(10 1606.2 718.8)"/></g>
<text transform="translate(1315.1 736.0) scale(1 1.045)" text-anchor="end">0.95</text>
<text transform="translate(1315.1 773.4) scale(1 1.045)" text-anchor="end">0.75</text>
<text transform="translate(1315.1 800.4) scale(1 1.045)" text-anchor="end">0.50</text>
<text transform="translate(1315.1 825.5) scale(1 1.045)" text-anchor="end">0.25</text>
<text transform="translate(1315.1 863.0) scale(1 1.045)" text-anchor="end">0.05</text>
<text transform="translate(1347.2 906.4) scale(1 0.92) rotate(-45) translate(0 12.2) scale(1 1.045)">0.025</text>
<text transform="translate(1408.5 896.6) scale(1 0.92) rotate(-45) translate(0 12.2) scale(1 1.045)">0.03</text>
<text transform="translate(1468.6 906.4) scale(1 0.92) rotate(-45) translate(0 12.2) scale(1 1.045)">0.035</text>
<text transform="translate(1531.2 896.6) scale(1 0.92) rotate(-45) translate(0 12.2) scale(1 1.045)">0.04</text>
<text transform="translate(1590.0 905.2) scale(1 0.92) rotate(-45) translate(0 12.2) scale(1 1.045)">0.045</text>
<text transform="translate(1470.4 684.5) scale(1 1.045)">Normal probability</text>
<text transform="translate(1357.0 971.0) scale(1 1.045)" text-anchor="start">Effect size * weight</text>
</g>
<g id="e1">
<clipPath id="clip-e1"><rect x="101.1" y="1077.8" width="242.5" height="457.8"/></clipPath>
<path d="M108.6 1158.7 L115.7 1157.4 L122.9 1150.7 L130.0 1144.0 L137.1 1162.7 L144.2 1152.0 L151.3 1148.0 L158.5 1144.5 L165.6 1148.0 L172.7 1142.7 L179.8 1134.6 L186.9 1123.9 L194.1 1150.2 L201.2 1142.7 L208.3 1133.3 L215.4 1121.8 L222.5 1150.7 L229.7 1158.2 L236.8 1148.0 L243.9 1144.5 L251.0 1162.7 L258.1 1151.5 L265.3 1148.0 L272.4 1143.5 L279.5 1135.4 L286.6 1132.7 L293.7 1137.3 L300.9 1131.9 L308.0 1123.1 L315.1 1192.2 L322.2 1105.7 L329.3 1152.0 L336.5 1129.3 L343.6 1138.6 L343.6 1488.7 L336.5 1484.7 L329.3 1453.1 L322.2 1528.9 L315.1 1475.3 L308.0 1463.3 L300.9 1486.8 L293.7 1490.9 L286.6 1486.6 L279.5 1492.2 L272.4 1496.8 L265.3 1500.8 L258.1 1504.0 L251.0 1515.0 L243.9 1497.6 L236.8 1501.3 L229.7 1511.0 L222.5 1504.3 L215.4 1475.3 L208.3 1486.8 L201.2 1495.4 L194.1 1502.9 L186.9 1476.7 L179.8 1488.2 L172.7 1495.4 L165.6 1500.8 L158.5 1497.6 L151.3 1501.3 L144.2 1505.3 L137.1 1515.5 L130.0 1497.6 L122.9 1504.0 L115.7 1510.1 L108.6 1512.3Z" fill="#b07a7b" stroke="#ff7474" stroke-width="2.1" stroke-linejoin="round" clip-path="url(#clip-e1)"/>
<line x1="107.9" y1="1535.5" x2="343.6" y2="1535.5" stroke="#111" stroke-width="4.3"/>
<path d="M172.2 1535.6v-6.5M172.2 1077.8v6.5M244.2 1535.6v-6.5M244.2 1077.8v6.5M315.2 1535.6v-6.5M315.2 1077.8v6.5M101.1 1535.3h6.5M101.1 1484.6h6.5M101.1 1433.9h6.5M101.1 1383.2h6.5M101.1 1332.5h6.5M101.1 1281.8h6.5M101.1 1231.1h6.5M101.1 1180.4h6.5M101.1 1129.7h6.5M101.1 1079.0h6.5M343.6 1489.8h-6.5M343.6 1444.0h-6.5M343.6 1398.3h-6.5M343.6 1352.5h-6.5M343.6 1306.7h-6.5M343.6 1260.9h-6.5M343.6 1215.1h-6.5M343.6 1169.4h-6.5M343.6 1123.6h-6.5" stroke="#000" stroke-width="2.1" fill="none"/>
<rect x="101.1" y="1077.8" width="242.5" height="457.8" fill="none" stroke="#000" stroke-width="2"/>
<text transform="translate(96.5 1544.8) scale(1 1.045)" text-anchor="end">300</text>
<text transform="translate(96.5 1497.0) scale(1 1.045)" text-anchor="end">320</text>
<text transform="translate(96.5 1446.3) scale(1 1.045)" text-anchor="end">340</text>
<text transform="translate(96.5 1395.6) scale(1 1.045)" text-anchor="end">360</text>
<text transform="translate(96.5 1344.9) scale(1 1.045)" text-anchor="end">380</text>
<text transform="translate(96.5 1294.2) scale(1 1.045)" text-anchor="end">400</text>
<text transform="translate(96.5 1243.5) scale(1 1.045)" text-anchor="end">420</text>
<text transform="translate(96.5 1192.8) scale(1 1.045)" text-anchor="end">440</text>
<text transform="translate(96.5 1142.1) scale(1 1.045)" text-anchor="end">460</text>
<text transform="translate(353.3 1548.0) scale(1 1.045)" text-anchor="start" fill="#000">0</text>
<text transform="translate(353.3 1502.2) scale(1 1.045)" text-anchor="start" fill="#000">0.1</text>
<text transform="translate(353.3 1456.4) scale(1 1.045)" text-anchor="start" fill="#000">0.2</text>
<text transform="translate(353.3 1410.6) scale(1 1.045)" text-anchor="start" fill="#000">0.3</text>
<text transform="translate(353.3 1364.9) scale(1 1.045)" text-anchor="start" fill="#000">0.4</text>
<text transform="translate(353.3 1319.1) scale(1 1.045)" text-anchor="start" fill="#000">0.5</text>
<text transform="translate(353.3 1273.3) scale(1 1.045)" text-anchor="start" fill="#000">0.6</text>
<text transform="translate(353.3 1227.5) scale(1 1.045)" text-anchor="start" fill="#000">0.7</text>
<text transform="translate(353.3 1181.7) scale(1 1.045)" text-anchor="start" fill="#000">0.8</text>
<text transform="translate(353.3 1136.0) scale(1 1.045)" text-anchor="start" fill="#000">0.9</text>
<text transform="translate(102.6 1574.0) scale(1 1.045)">0</text>
<text transform="translate(175.4 1574.0) scale(1 1.045)">10</text>
<text transform="translate(244.2 1574.0) scale(1 1.045)">20</text>
<text transform="translate(316.0 1574.0) scale(1 1.045)">30</text>
<text transform="translate(223.7 1031.5) scale(1 1.045)">Single Study</text>
<text transform="translate(223.7 1069.8) scale(1 1.045)">Exclusion Analysis</text>
<text transform="translate(223.6 1609.2) scale(1 1.045)">Single</text>
<text transform="translate(223.0 1647.3) scale(1 1.045)">datasets excluded</text>
<text transform="translate(27.6 1314.4) rotate(-90) scale(1 1.045)">effect size</text>
</g>
<g id="e2">
<clipPath id="clip-e2"><rect x="475.4" y="1077.8" width="242.8" height="457.8"/></clipPath>
<path d="M482.8 1287.8 L490.4 1298.0 L498.0 1325.4 L505.6 1357.5 L513.1 1315.4 L520.7 1317.3 L528.3 1302.0 L535.9 1286.0 L543.5 1270.7 L551.1 1286.0 L558.7 1302.0 L566.3 1320.0 L573.9 1341.4 L581.5 1320.0 L589.0 1301.5 L596.6 1295.3 L604.2 1284.0 L611.8 1275.2 L619.4 1263.0 L627.0 1250.3 L634.6 1258.6 L642.2 1246.6 L649.8 1251.9 L657.4 1240.9 L665.0 1244.4 L672.5 1225.7 L680.1 1207.5 L687.7 1189.5 L695.3 1183.4 L702.9 1184.2 L710.5 1180.7 L718.1 1165.4 L718.1 1395.0 L710.5 1362.3 L702.9 1354.8 L695.3 1346.2 L687.7 1350.8 L680.1 1357.0 L672.5 1360.7 L665.0 1363.4 L657.4 1357.5 L649.8 1362.3 L642.2 1354.3 L634.6 1361.5 L627.0 1351.6 L619.4 1362.8 L611.8 1381.6 L604.2 1407.0 L596.6 1424.4 L589.0 1448.5 L581.5 1453.4 L573.9 1466.8 L566.3 1456.6 L558.7 1443.2 L551.1 1429.8 L543.5 1415.9 L535.9 1435.2 L528.3 1448.5 L520.7 1470.0 L513.1 1494.1 L505.6 1507.5 L498.0 1494.1 L490.4 1483.9 L482.8 1492.7Z" fill="#b07a7b" stroke="#ff7474" stroke-width="2.1" stroke-linejoin="round" clip-path="url(#clip-e2)"/>
<line x1="474.6" y1="1512.0" x2="717.2" y2="1512.0" stroke="#111" stroke-width="2.6" stroke-linecap="round" stroke-dasharray="0.01 7.0"/>
<path d="M483.3 1535.2 L595.5 1535.0 L604.9 1519.5 L608.9 1480.7 L612.9 1421.8 L615.6 1346.8 L616.4 1257.8 L617.5 1217.6 L620.9 1177.5 L625.0 1145.3 L630.3 1123.9 L635.7 1109.2 L642.4 1097.1 L649.1 1091.2 L663.8 1088.6 L673.2 1089.6 L679.9 1088.3 L687.9 1083.2 L695.9 1078.4 L702.6 1079.7 L710.1 1085.1 L718.2 1078.4" stroke="#2b2b2b" stroke-width="2.0" fill="none" stroke-linejoin="round" clip-path="url(#clip-e2)"/>
<path d="M551.3 1535.6v-6.5M551.3 1077.8v6.5M627.1 1535.6v-6.5M627.1 1077.8v6.5M702.6 1535.6v-6.5M702.6 1077.8v6.5M475.4 1535.6h6.5M475.4 1444.0h6.5M475.4 1352.4h6.5M475.4 1260.8h6.5M475.4 1169.2h6.5M475.4 1079.0h6.5M718.2 1489.8h-6.5M718.2 1444.0h-6.5M718.2 1398.3h-6.5M718.2 1352.5h-6.5M718.2 1306.7h-6.5M718.2 1260.9h-6.5M718.2 1215.1h-6.5M718.2 1169.4h-6.5M718.2 1123.6h-6.5" stroke="#000" stroke-width="2.1" fill="none"/>
<rect x="475.4" y="1077.8" width="242.8" height="457.8" fill="none" stroke="#000" stroke-width="2"/>
<text transform="translate(473.8 1545.1) scale(1 1.045)" text-anchor="end">300</text>
<text transform="translate(473.8 1456.4) scale(1 1.045)" text-anchor="end">350</text>
<text transform="translate(473.8 1364.8) scale(1 1.045)" text-anchor="end">400</text>
<text transform="translate(473.8 1273.2) scale(1 1.045)" text-anchor="end">450</text>
<text transform="translate(473.8 1181.6) scale(1 1.045)" text-anchor="end">500</text>
<text transform="translate(724.7 1548.0) scale(1 1.045)" text-anchor="start" fill="#000">0</text>
<text transform="translate(724.7 1502.2) scale(1 1.045)" text-anchor="start" fill="#000">0.1</text>
<text transform="translate(724.7 1456.4) scale(1 1.045)" text-anchor="start" fill="#000">0.2</text>
<text transform="translate(724.7 1410.6) scale(1 1.045)" text-anchor="start" fill="#000">0.3</text>
<text transform="translate(724.7 1364.9) scale(1 1.045)" text-anchor="start" fill="#000">0.4</text>
<text transform="translate(724.7 1319.1) scale(1 1.045)" text-anchor="start" fill="#000">0.5</text>
<text transform="translate(724.7 1273.3) scale(1 1.045)" text-anchor="start" fill="#000">0.6</text>
<text transform="translate(724.7 1227.5) scale(1 1.045)" text-anchor="start" fill="#000">0.7</text>
<text transform="translate(724.7 1181.7) scale(1 1.045)" text-anchor="start" fill="#000">0.8</text>
<text transform="translate(724.7 1136.0) scale(1 1.045)" text-anchor="start" fill="#000">0.9</text>
<text transform="translate(476.3 1574.0) scale(1 1.045)">0</text>
<text transform="translate(552.7 1574.0) scale(1 1.045)">10</text>
<text transform="translate(627.1 1574.0) scale(1 1.045)">20</text>
<text transform="translate(702.6 1574.0) scale(1 1.045)">30</text>
<text transform="translate(595.0 1031.5) scale(1 1.045)">Cumulative</text>
<text transform="translate(595.0 1069.8) scale(1 1.045)">Exclusion Analysis</text>
<text transform="translate(597.9 1609.2) scale(1 1.045)">Cumulative</text>
<text transform="translate(597.2 1647.3) scale(1 1.045)">datasets excluded</text>
<text transform="translate(804.4 1318.0) rotate(-90) scale(1 1.045)">Q test, p-value</text>
</g>
<g id="f1">
<clipPath id="clip-f1"><rect x="920.4" y="1083.7" width="243.2" height="457.2"/></clipPath>
<path d="M940.5 1186.3 L960.7 1189.5 L981.0 1205.0 L1001.3 1211.7 L1021.6 1172.9 L1041.8 1214.4 L1062.1 1198.4 L1082.4 1210.1 L1102.6 1189.5 L1122.9 1177.5 L1143.2 1172.9 L1163.4 1159.5 L1163.4 1495.4 L1143.2 1479.3 L1122.9 1482.8 L1102.6 1509.6 L1082.4 1512.3 L1062.1 1506.7 L1041.8 1513.6 L1021.6 1480.1 L1001.3 1512.3 L981.0 1511.5 L960.7 1508.8 L940.5 1385.6Z" fill="#b07a7b" stroke="#ff7474" stroke-width="2.1" stroke-linejoin="round" clip-path="url(#clip-f1)"/>
<line x1="940.5" y1="1540.8" x2="1163.6" y2="1540.8" stroke="#111" stroke-width="3.5"/>
<path d="M1021.4 1540.9v-6.5M1021.4 1083.7v6.5M1122.6 1540.9v-6.5M1122.6 1083.7v6.5M920.4 1540.9h6.5M920.4 1449.5h6.5M920.4 1358.1h6.5M920.4 1266.7h6.5M920.4 1175.3h6.5M1163.6 1495.2h-6.5M1163.6 1449.5h-6.5M1163.6 1403.7h-6.5M1163.6 1358.0h-6.5M1163.6 1312.3h-6.5M1163.6 1266.6h-6.5M1163.6 1220.9h-6.5M1163.6 1175.1h-6.5M1163.6 1129.4h-6.5" stroke="#000" stroke-width="2.1" fill="none"/>
<rect x="920.4" y="1083.7" width="243.2" height="457.2" fill="none" stroke="#000" stroke-width="2"/>
<text transform="translate(916.5 1553.3) scale(1 1.045)" text-anchor="end">600</text>
<text transform="translate(916.5 1461.9) scale(1 1.045)" text-anchor="end">650</text>
<text transform="translate(916.5 1370.5) scale(1 1.045)" text-anchor="end">700</text>
<text transform="translate(916.5 1279.1) scale(1 1.045)" text-anchor="end">750</text>
<text transform="translate(916.5 1187.7) scale(1 1.045)" text-anchor="end">800</text>
<text transform="translate(1169.9 1553.3) scale(1 1.045)" text-anchor="start" fill="#000">0</text>
<text transform="translate(1169.9 1507.6) scale(1 1.045)" text-anchor="start" fill="#000">0.1</text>
<text transform="translate(1169.9 1461.8) scale(1 1.045)" text-anchor="start" fill="#000">0.2</text>
<text transform="translate(1169.9 1416.1) scale(1 1.045)" text-anchor="start" fill="#000">0.3</text>
<text transform="translate(1169.9 1370.4) scale(1 1.045)" text-anchor="start" fill="#000">0.4</text>
<text transform="translate(1169.9 1324.7) scale(1 1.045)" text-anchor="start" fill="#000">0.5</text>
<text transform="translate(1169.9 1279.0) scale(1 1.045)" text-anchor="start" fill="#000">0.6</text>
<text transform="translate(1169.9 1233.2) scale(1 1.045)" text-anchor="start" fill="#000">0.7</text>
<text transform="translate(1169.9 1187.5) scale(1 1.045)" text-anchor="start" fill="#000">0.8</text>
<text transform="translate(1169.9 1141.8) scale(1 1.045)" text-anchor="start" fill="#000">0.9</text>
<text transform="translate(921.2 1573.3) scale(1 1.045)">0</text>
<text transform="translate(1021.4 1573.3) scale(1 1.045)">5</text>
<text transform="translate(1123.4 1573.3) scale(1 1.045)">10</text>
<text transform="translate(1043.1 1031.5) scale(1 1.045)">Single Study</text>
<text transform="translate(1043.1 1069.8) scale(1 1.045)">Exclusion Analysis</text>
<text transform="translate(1042.7 1609.2) scale(1 1.045)">Single</text>
<text transform="translate(1042.3 1647.3) scale(1 1.045)">datasets excluded</text>
<text transform="translate(853.5 1319.0) rotate(-90) scale(1 1.045)">effect size</text>
</g>
<g id="f2">
<clipPath id="clip-f2"><rect x="1294.9" y="1083.7" width="242.3" height="457.2"/></clipPath>
<path d="M1319.1 1215.8 L1343.4 1185.5 L1367.6 1156.0 L1391.8 1137.3 L1416.1 1125.8 L1440.3 1143.5 L1464.5 1153.9 L1488.7 1168.1 L1513.0 1182.0 L1537.2 1180.1 L1537.2 1474.0 L1513.0 1451.2 L1488.7 1407.0 L1464.5 1376.8 L1440.3 1358.8 L1416.1 1319.0 L1391.8 1352.1 L1367.6 1415.1 L1343.4 1467.3 L1319.1 1525.7Z" fill="#b07a7b" stroke="#ff7474" stroke-width="2.1" stroke-linejoin="round" clip-path="url(#clip-f2)"/>
<line x1="1301.5" y1="1517.9" x2="1536.2" y2="1517.9" stroke="#111" stroke-width="2.6" stroke-linecap="round" stroke-dasharray="0.01 7.25"/>
<path d="M1318.7 1540.9 L1343.6 1535.6 L1355.7 1526.2 L1367.7 1515.5 L1373.1 1494.1 L1391.8 1413.7 L1393.1 1392.3 L1403.9 1320.0 L1414.6 1256.5 L1438.7 1216.3 L1462.8 1202.9 L1487.4 1172.1 L1512.3 1111.3 L1537.2 1113.2" stroke="#2b2b2b" stroke-width="2.0" fill="none" stroke-linejoin="round" clip-path="url(#clip-f2)"/>
<path d="M1415.9 1540.9v-6.5M1415.9 1083.7v6.5M1294.9 1540.9h6.5M1294.9 1483.8h6.5M1294.9 1426.7h6.5M1294.9 1369.6h6.5M1294.9 1312.5h6.5M1294.9 1255.4h6.5M1294.9 1198.3h6.5M1294.9 1141.2h6.5M1537.2 1495.2h-6.5M1537.2 1449.5h-6.5M1537.2 1403.7h-6.5M1537.2 1358.0h-6.5M1537.2 1312.3h-6.5M1537.2 1266.6h-6.5M1537.2 1220.9h-6.5M1537.2 1175.1h-6.5M1537.2 1129.4h-6.5" stroke="#000" stroke-width="2.1" fill="none"/>
<rect x="1294.9" y="1083.7" width="242.3" height="457.2" fill="none" stroke="#000" stroke-width="2"/>
<text transform="translate(1291.5 1553.3) scale(1 1.045)" text-anchor="end">680</text>
<text transform="translate(1291.5 1496.2) scale(1 1.045)" text-anchor="end">700</text>
<text transform="translate(1291.5 1439.1) scale(1 1.045)" text-anchor="end">720</text>
<text transform="translate(1291.5 1382.0) scale(1 1.045)" text-anchor="end">740</text>
<text transform="translate(1291.5 1324.9) scale(1 1.045)" text-anchor="end">760</text>
<text transform="translate(1291.5 1267.8) scale(1 1.045)" text-anchor="end">780</text>
<text transform="translate(1291.5 1210.7) scale(1 1.045)" text-anchor="end">800</text>
<text transform="translate(1291.5 1153.6) scale(1 1.045)" text-anchor="end">820</text>
<text transform="translate(1545.6 1553.3) scale(1 1.045)" text-anchor="start" fill="#000">0</text>
<text transform="translate(1545.6 1507.6) scale(1 1.045)" text-anchor="start" fill="#000">0.1</text>
<text transform="translate(1545.6 1461.8) scale(1 1.045)" text-anchor="start" fill="#000">0.2</text>
<text transform="translate(1545.6 1416.1) scale(1 1.045)" text-anchor="start" fill="#000">0.3</text>
<text transform="translate(1545.6 1370.4) scale(1 1.045)" text-anchor="start" fill="#000">0.4</text>
<text transform="translate(1545.6 1324.7) scale(1 1.045)" text-anchor="start" fill="#000">0.5</text>
<text transform="translate(1545.6 1279.0) scale(1 1.045)" text-anchor="start" fill="#000">0.6</text>
<text transform="translate(1545.6 1233.2) scale(1 1.045)" text-anchor="start" fill="#000">0.7</text>
<text transform="translate(1545.6 1187.5) scale(1 1.045)" text-anchor="start" fill="#000">0.8</text>
<text transform="translate(1545.6 1141.8) scale(1 1.045)" text-anchor="start" fill="#000">0.9</text>
<text transform="translate(1297.3 1573.3) scale(1 1.045)">0</text>
<text transform="translate(1416.4 1573.3) scale(1 1.045)">5</text>
<text transform="translate(1535.1 1573.3) scale(1 1.045)">10</text>
<text transform="translate(1416.5 1031.5) scale(1 1.045)">Cumulative</text>
<text transform="translate(1416.5 1069.8) scale(1 1.045)">Exclusion Analysis</text>
<text transform="translate(1417.0 1609.2) scale(1 1.045)">Cumulative</text>
<text transform="translate(1416.3 1647.3) scale(1 1.045)">datasets excluded</text>
<text transform="translate(1634.7 1324.0) rotate(-90) scale(1 1.045)">Q test, p-value</text>
</g>
</g></svg></body></html>
